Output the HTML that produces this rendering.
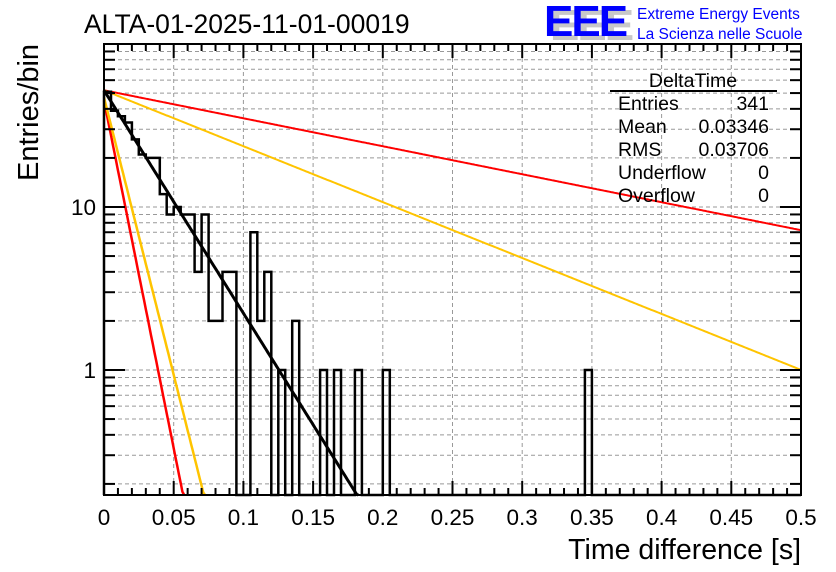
<!DOCTYPE html>
<html><head><meta charset="utf-8">
<style>
html,body{margin:0;padding:0;background:#fff;}
svg{display:block;font-family:"Liberation Sans",Arial,sans-serif;}
</style></head>
<body>
<svg id="chart" width="836" height="572" viewBox="0 0 836 572" xmlns="http://www.w3.org/2000/svg">
<rect width="836" height="572" fill="#fff"/>
<g id="grid"></g>
<g id="fits"></g>
<g id="hist"></g>
<rect x="104" y="44" width="697" height="451" fill="none" stroke="#000" stroke-width="2"/>
<g id="ticks"></g>
<text x="84" y="33" font-size="26.5">ALTA-01-2025-11-01-00019</text>
<g>
<text x="550" y="40" font-size="44" font-weight="bold" fill="#c8c8c8" letter-spacing="-2">EEE</text>
<text x="544" y="36" font-size="44" font-weight="bold" fill="#0000ff" letter-spacing="-2">EEE</text>
<text x="637" y="19" font-size="15.5" fill="#0000ff">Extreme Energy Events</text>
<text x="637" y="39" font-size="15.5" fill="#0000ff">La Scienza nelle Scuole</text>
</g>
<g font-size="19.5">
<text x="693" y="87" text-anchor="middle">DeltaTime</text>
<line x1="610" y1="91" x2="777" y2="91" stroke="#000" stroke-width="2"/>
<text x="618" y="110">Entries</text>
<text x="769" y="110" text-anchor="end">341</text>
<text x="618" y="133">Mean</text>
<text x="769" y="133" text-anchor="end">0.03346</text>
<text x="618" y="156">RMS</text>
<text x="769" y="156" text-anchor="end">0.03706</text>
<text x="618" y="179">Underflow</text>
<text x="769" y="179" text-anchor="end">0</text>
<text x="618" y="202">Overflow</text>
<text x="769" y="202" text-anchor="end">0</text>
</g>
<text x="801" y="559" font-size="28.5" text-anchor="end">Time difference [s]</text>
<text transform="translate(38,181) rotate(-90)" font-size="29">Entries/bin</text>
</svg>
<script>
const binWidth = 0.005;
const counts = [51,39,36,33,26,21,20,20,12,9,10,9,9,4,9,2,2,4,4,0,0,7,2,4,0,1,0,2,0,0,0,1,0,1,0,0,1,0,0,0,1,0,0,0,0,0,0,0,0,0,0,0,0,0,0,0,0,0,0,0,0,0,0,0,0,0,0,0,0,1,0,0,0,0,0,0,0,0,0,0,0,0,0,0,0,0,0,0,0,0,0,0,0,0,0,0,0,0,0,0];
const fitNames = ["fit-red-slow","fit-yellow-slow","fit-red-fast","fit-yellow-fast","fit-black"];
const fitAmps = [52,52,45,47,52];
const fitTaus = [0.253,0.1266,0.01018,0.01276,0.03175];
const fitColors = ["#ff0000","#ffc400","#ff0000","#ffc400","#000000"];
const fitWidths = [2,2,2.5,2.5,3];
const xTickLabels = ["0","0.05","0.1","0.15","0.2","0.25","0.3","0.35","0.4","0.45","0.5"];
const yTickLabels = ["1","10"];

const X0=104,X1=801,Y0=495,Y1=44;
const xMin=0,xMax=0.5,yMin=0.171,yMax=100;
const NS="http://www.w3.org/2000/svg";
function sx(v){return X0+(v-xMin)/(xMax-xMin)*(X1-X0);}
function sy(v){const lv=Math.log10(Math.max(v,yMin));return Y0-(lv-Math.log10(yMin))/(Math.log10(yMax)-Math.log10(yMin))*(Y0-Y1);}
function mk(tag,attrs,parent){const e=document.createElementNS(NS,tag);for(const k in attrs)e.setAttribute(k,attrs[k]);parent.appendChild(e);return e;}
const grid=document.getElementById('grid'),ticks=document.getElementById('ticks'),fits=document.getElementById('fits'),hist=document.getElementById('hist');

for(let i=1;i<xTickLabels.length-1;i++){const x=sx(i*0.05);
 const l=mk('line',{x1:x,x2:x,y1:Y1,y2:Y0,stroke:'#999',"stroke-width":1,"stroke-dasharray":'4,3'},grid);
 
 }
for(let d=-1;d<=2;d++){for(let m=1;m<=9;m++){const v=m*Math.pow(10,d);if(v<yMin||v>yMax)continue;const y=sy(v);
 const g=mk('line',{x1:X0,x2:X1,y1:y,y2:y,stroke:'#999',"stroke-width":1,"stroke-dasharray":'4,3'},grid);
 
 
 const len=m===1?21:11;
 const t1=mk('line',{x1:X0,x2:X0+len,y1:y,y2:y,stroke:'#000',"stroke-width":2},ticks);
 
 
 const t2=mk('line',{x1:X1,x2:X1-len,y1:y,y2:y,stroke:'#000',"stroke-width":2},ticks);
 
 }}
yTickLabels.forEach(s=>{const t=mk('text',{x:96,y:sy(parseFloat(s))+8,"font-size":22.5,"text-anchor":'end'},ticks);t.textContent=s;
 
 });
for(let i=0;i<=50;i++){const x=sx(i*0.01);const len=(i%5===0)?14:7;
 const a=mk('line',{x1:x,x2:x,y1:Y0,y2:Y0-len,stroke:'#000',"stroke-width":2},ticks);
 
 
 const b=mk('line',{x1:x,x2:x,y1:Y1,y2:Y1+len,stroke:'#000',"stroke-width":2},ticks);
 
 }
xTickLabels.forEach((s,i)=>{const t=mk('text',{x:sx(i*0.05),y:525,"font-size":22.5,"text-anchor":'middle'},ticks);t.textContent=s;
 
 });
fitAmps.forEach((A,k)=>{let pts=[];for(let i=0;i<=400;i++){const x=xMax*i/400;const v=A*Math.exp(-x/fitTaus[k]);pts.push(sx(x).toFixed(1)+','+sy(v).toFixed(1));if(v<yMin)break;}
 const p=mk('polyline',{points:pts.join(' '),fill:'none',stroke:fitColors[k],"stroke-width":fitWidths[k]},fits);
 
 });
let pts=[[sx(0),sy(yMin)]];
counts.forEach((c,i)=>{const y=c>0?sy(c):Y0;pts.push([sx(i*binWidth),y]);pts.push([sx((i+1)*binWidth),y]);});
pts.push([sx(counts.length*binWidth),Y0]);
const h=mk('polyline',{points:pts.map(p=>p[0].toFixed(1)+','+p[1].toFixed(1)).join(' '),fill:'none',stroke:'#000',"stroke-width":2.5},hist);


</script>
</body></html>
